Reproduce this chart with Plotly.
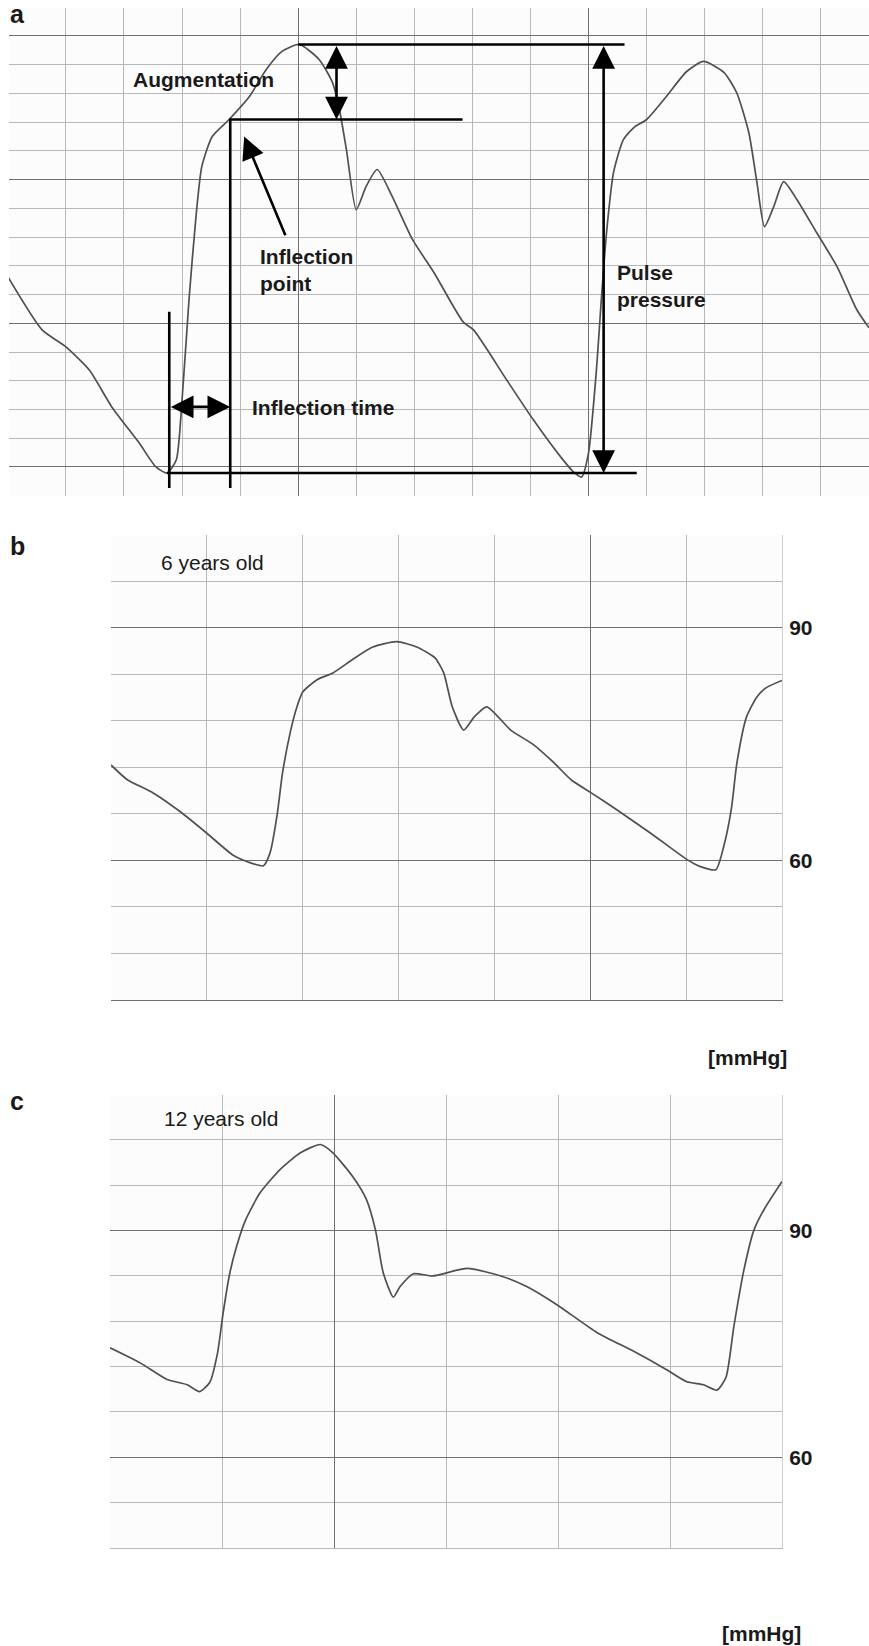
import plotly.graph_objects as go

W, H = 869, 1646

# ---------------- data ----------------
# Panel a: arbitrary grid units (x: time cells, y: pressure cells)
a_x = [0, 0.59, 1.0, 1.40, 1.79, 2.26, 2.55, 2.74, 2.90, 3.0, 3.12, 3.24, 3.34, 3.52, 3.81,
       4.16, 4.45, 4.72, 5.02, 5.36, 5.59, 5.71, 5.83, 6.0, 6.17, 6.36, 6.62, 6.97, 7.34,
       7.84, 8.02, 8.59, 9.05, 9.52, 9.74, 9.88, 10.0, 10.14, 10.22, 10.31, 10.43, 10.60,
       10.78, 11.0, 11.34, 11.69, 11.98, 12.33, 12.55, 12.76, 12.90, 13.03, 13.19, 13.36,
       13.59, 13.93, 14.28, 14.62, 14.83]
a_y = [6.62, 4.77, 4.18, 3.38, 2.09, 0.84, 0.0, -0.21, 0.24, 2.33, 5.82, 8.71, 10.45, 11.50, 12.09,
       12.89, 13.83, 14.46, 14.70, 14.18, 13.38, 12.44, 11.05, 8.95, 9.76, 10.35, 9.41, 7.91, 6.76,
       5.05, 4.77, 3.03, 1.64, 0.35, -0.17, -0.35, 0.49, 3.48, 5.82, 8.15, 10.24, 11.39,
       11.81, 12.09, 12.89, 13.76, 14.11, 13.73, 13.03, 11.64, 9.90, 8.36, 9.06, 9.93,
       9.30, 8.15, 6.97, 5.47, 4.84]

# Panel b: 6 years old (mmHg)
b_x = [0, 0.17, 0.44, 0.72, 1.00, 1.27, 1.43, 1.59, 1.66, 1.73, 1.79, 1.87, 1.94, 2.00, 2.15,
       2.32, 2.52, 2.73, 2.98, 3.19, 3.38, 3.47, 3.56, 3.68, 3.79, 3.92, 4.17, 4.41, 4.62,
       4.80, 5.01, 5.28, 5.63, 6.01, 6.15, 6.31, 6.39, 6.47, 6.53, 6.63, 6.74, 6.84, 7.00]
b_y = [72.3, 70.4, 68.7, 66.3, 63.5, 60.7, 59.8, 59.3, 61.0, 65.6, 71.3, 76.5, 79.8, 81.7, 83.3,
       84.2, 85.9, 87.5, 88.2, 87.5, 86.1, 84.2, 79.8, 76.8, 78.5, 79.8, 76.8, 74.9, 72.6,
       70.4, 68.7, 66.5, 63.5, 60.1, 59.2, 58.8, 61.7, 66.5, 72.6, 78.5, 81.1, 82.3, 83.2]

# Panel c: 12 years old (mmHg)
c_x = [0, 0.27, 0.51, 0.69, 0.80, 0.89, 0.96, 1.01, 1.07, 1.13, 1.21, 1.34, 1.52, 1.70, 1.88,
       1.99, 2.17, 2.29, 2.37, 2.44, 2.53, 2.59, 2.71, 2.88, 3.19, 3.49, 3.72, 3.99, 4.35,
       4.68, 4.97, 5.15, 5.30, 5.42, 5.50, 5.57, 5.66, 5.75, 5.84, 6.00]
c_y = [74.5, 72.5, 70.3, 69.6, 68.7, 69.9, 73.8, 79.1, 84.4, 87.9, 91.4, 95.0, 98.1, 100.3, 101.4,
       100.3, 97.1, 94.1, 90.1, 84.4, 81.2, 82.6, 84.3, 84.0, 85.0, 84.0, 82.6, 80.2, 76.5,
       74.0, 71.6, 70.0, 69.6, 68.9, 70.6, 77.3, 84.8, 90.1, 92.8, 96.5]

y_ticks = [60, 90]
y_tick_text = ["<b>60</b>", "<b>90</b>"]
panel_letters = ["a", "b", "c"]
age_labels = ["6 years old", "12 years old"]
unit_label = "[mmHg]"

# ---------------- helpers ----------------
def px(x):
    return x / W

def py(y):
    return 1 - y / H

MAJOR = "#707070"
MINOR = "#b8b8b8"
TRACE = "#505050"
FONT = "Liberation Sans, Arial, sans-serif"

fig = go.Figure()
for xs, ys, xa, ya in ((a_x, a_y, "x", "y"), (b_x, b_y, "x2", "y2"), (c_x, c_y, "x3", "y3")):
    fig.add_trace(go.Scatter(x=xs, y=ys, mode="lines",
                             line=dict(color=TRACE, width=1.7, shape="spline", smoothing=0.6),
                             xaxis=xa, yaxis=ya, hoverinfo="skip", showlegend=False))

def grid_axis(domain, rng, tick0, dtick, mdtick, anchor, **kw):
    d = dict(domain=domain, range=rng, anchor=anchor, tick0=tick0, dtick=dtick,
             showgrid=True, gridcolor=MAJOR, gridwidth=1.4, zeroline=False,
             showticklabels=False, ticks="",
             minor=dict(dtick=mdtick, tick0=0, showgrid=True, gridcolor=MINOR, gridwidth=1),
             fixedrange=True)
    d.update(kw)
    return d

tickfont = dict(family=FONT, size=21, color="#1a1a1a")
fig.update_layout(
    xaxis=grid_axis([px(9), 1.0], [0.02, 14.83], 0, 5, 1, "y"),
    yaxis=grid_axis([py(495.7), py(8)], [-1, 15.97], 0, 5, 1, "x"),
    xaxis2=grid_axis([px(111), px(782)], [0, 7], 0, 5, 1, "y2",
                     showline=True, linecolor=MAJOR, linewidth=1.2),
    yaxis2=grid_axis([py(1000), py(535)], [42, 101.95], 0, 30, 6, "x2", side="right",
                     showticklabels=True, tickmode="array", tickvals=y_ticks, ticktext=y_tick_text,
                     tickfont=tickfont, ticklabelstandoff=2, ticklen=0,
                     showline=True, linecolor="#d0d0d0", linewidth=1),
    xaxis3=grid_axis([px(110), px(782)], [0, 6], 2, 5, 1, "y3",
                     showline=True, linecolor=MINOR, linewidth=1.2),
    yaxis3=grid_axis([py(1548), py(1095)], [48, 107.95], 0, 30, 6, "x3", side="right",
                     showticklabels=True, tickmode="array", tickvals=y_ticks, ticktext=y_tick_text,
                     tickfont=tickfont, ticklabelstandoff=2, ticklen=0,
                     showline=True, linecolor="#d0d0d0", linewidth=1),
)

shapes = []
def seg(x0, y0, x1, y1):
    shapes.append(dict(type="line", xref="x", yref="y", x0=x0, y0=y0, x1=x1, y1=y1,
                       line=dict(color="black", width=2.6)))

peak_y = max(a_y[:30])
foot_y = min(a_y[:30])
infl_y = 12.09
seg(5.0, peak_y, 10.62, peak_y)          # top (systolic peak)
seg(3.81, infl_y, 7.83, infl_y)          # inflection level
seg(2.74, foot_y, 10.83, foot_y)         # foot level
seg(2.78, 5.40, 2.78, -0.73)             # foot vertical
seg(3.83, infl_y, 3.83, -0.73)           # inflection vertical

annotations = []
def arrow(x0, y0, x1, y1, both=True):
    annotations.append(dict(x=x1, y=y1, ax=x0, ay=y0, xref="x", yref="y", axref="x", ayref="y",
                            text="", showarrow=True, arrowhead=2, arrowsize=1.75, arrowwidth=2.6,
                            arrowcolor="black", arrowside="end+start" if both else "end",
                            startarrowhead=2, startarrowsize=1.75, standoff=0, startstandoff=0))

arrow(5.66, peak_y, 5.66, infl_y)        # augmentation
arrow(2.78, 2.09, 3.83, 2.09)            # inflection time
arrow(4.79, 8.01, 4.07, 11.50, both=False)  # inflection point
arrow(10.26, peak_y, 10.26, foot_y)      # pulse pressure

def text(s, x, y, xanchor="left", bold=True, size=21):
    annotations.append(dict(text=f"<b>{s}</b>" if bold else s, x=px(x), y=py(y), xref="paper", yref="paper",
                            xanchor=xanchor, yanchor="middle", showarrow=False, align="left",
                            font=dict(family=FONT, size=size, color="#1a1a1a")))

text("Augmentation", 131, 80)
text("Inflection<br>point", 258, 270)
text("Inflection time", 250, 407)
text("Pulse<br>pressure", 615, 286)
text(panel_letters[0], 8, 14, size=25)
text(panel_letters[1], 8, 546, size=25)
text(panel_letters[2], 8, 1101, size=25)
text(age_labels[0], 159, 562, bold=False)
text(age_labels[1], 162, 1118, bold=False)
text(unit_label, 789, 1057, xanchor="right")
text(unit_label, 803, 1633, xanchor="right")

fig.update_layout(
    width=W, height=H, margin=dict(l=0, r=0, t=0, b=0),
    paper_bgcolor="white", plot_bgcolor="#fcfcfc",
    shapes=shapes, annotations=annotations, showlegend=False,
    font=dict(family=FONT),
)

fig.write_html("out.html", config={"displayModeBar": False},
               post_script="document.body.style.margin='0';document.body.style.overflow='hidden';")
